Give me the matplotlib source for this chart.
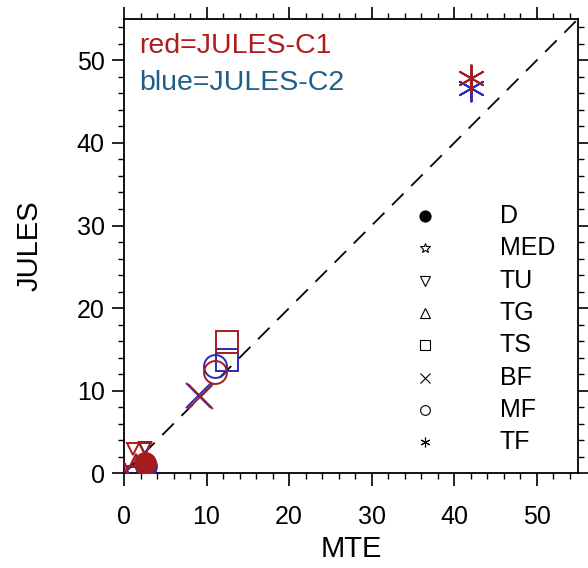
import matplotlib
matplotlib.use("Agg")
import matplotlib.pyplot as plt
import numpy as np

plt.rcParams['font.family'] = ['Liberation Sans', 'DejaVu Sans']

# biome of each point, with markers
biomes = ["D", "MED", "TU", "TG", "TS", "BF", "MF", "TF"]
markers = ["o", "*", "v", "^", "s", "x", "o", (6, 2, 0)]

# JULES-C1 (red) and JULES-C2 (blue) against MTE
c1_biome = ["TG", "MED", "TU", "TU", "D", "BF", "MF", "TS", "TF"]
c1_mte = [1.4, 0.0, 1.1, 2.5, 2.6, 9.2, 11.0, 12.5, 42.0]
c1_jules = [1.6, 0.6, 3.0, 3.0, 1.2, 9.4, 12.3, 15.9, 47.9]

c2_biome = ["TG", "MED", "TU", "D", "BF", "MF", "TS", "TF"]
c2_mte = [1.5, 0.1, 2.5, 2.7, 9.0, 11.0, 12.5, 42.0]
c2_jules = [1.5, 0.5, 3.1, 0.9, 9.5, 13.0, 13.7, 46.7]

red = "#a51c1c"
blue = "#2b2bb5"

fig = plt.figure(figsize=(5.88, 5.68), dpi=100)
ax = fig.add_axes([0.2109, 0.1667, 0.7721, 0.7998])

ax.plot([0, 55], [0, 55], color="black", lw=1.3, ls=(0, (9, 6)), zorder=1)

sizes = {"o": 16.5, "*": 9, "v": 9, "^": 9, "s": 16.5, "x": 18}

def draw(bl, xs, ys, col):
    for b, x, y in zip(bl, xs, ys):
        m = markers[biomes.index(b)]
        ms = sizes.get(m, 18) if isinstance(m, str) else 20
        filled = b == "D"
        ax.plot(x, y, marker=m, ms=15 if filled else ms,
                mfc=col if filled else "none", mec=col, mew=1.4,
                ls="none", zorder=3)

draw(c2_biome, c2_mte, c2_jules, blue)
draw(c1_biome, c1_mte, c1_jules, red)

# biome key
for i, (b, m) in enumerate(zip(biomes, markers)):
    yy = 0.566 - i * 0.0711
    ax.plot(0.663, yy, marker=m, ms=8 if b == "D" else 7,
            mfc="black" if b == "D" else "none", mec="black", mew=0.8,
            transform=ax.transAxes, ls="none", clip_on=False)
    ax.text(0.828, yy, b, transform=ax.transAxes, fontsize=18,
            va="center", ha="left")

ax.text(0.033, 0.94, "red=JULES-C1", color="#b01c1c", fontsize=20.5,
        transform=ax.transAxes, va="center")
ax.text(0.033, 0.859, "blue=JULES-C2", color="#1f6088", fontsize=20.5,
        transform=ax.transAxes, va="center")

ax.set_xlim(0, 55)
ax.set_ylim(0, 55)
ax.set_xticks(np.arange(0, 51, 10))
ax.set_yticks(np.arange(0, 51, 10))
ax.set_xticks(np.arange(0, 55, 2), minor=True)
ax.set_yticks(np.arange(0, 55, 2), minor=True)
ax.tick_params(which="major", direction="out", length=9, width=1.2,
               labelsize=18, top=True, right=True)
ax.tick_params(which="minor", direction="out", length=4.5, width=1.0,
               top=True, right=True)
ax.tick_params(axis="x", pad=14)
ax.tick_params(axis="y", pad=5)
for s in ax.spines.values():
    s.set_linewidth(1.3)

ax.set_xlabel("MTE", fontsize=21, labelpad=4)
ax.set_ylabel("JULES", fontsize=21, labelpad=24)

fig.savefig("out.png", dpi=100)
